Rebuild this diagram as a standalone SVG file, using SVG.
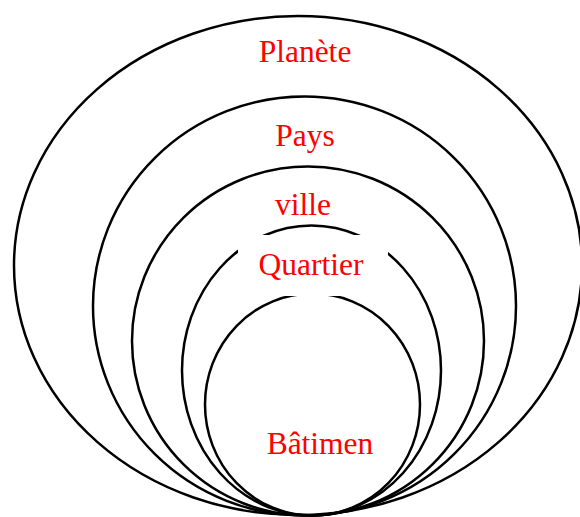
<svg xmlns="http://www.w3.org/2000/svg" width="580" height="517" viewBox="0 0 580 517">
<style>
.ring{fill:none;stroke:#000;stroke-width:2.5}
.lbl{font-family:"Liberation Serif","Times New Roman",serif;font-size:31.5px;fill:#ff0000;text-anchor:middle}
</style>
<rect width="580" height="517" fill="#fff"/>
<g id="planete">
<ellipse class="ring" cx="298" cy="265.5" rx="284" ry="249.5"/>
<text class="lbl" x="305" y="62">Planète</text>
</g>
<g id="pays">
<ellipse class="ring" cx="304.5" cy="306" rx="211.5" ry="209.5"/>
<text class="lbl" x="305" y="146">Pays</text>
</g>
<g id="ville">
<ellipse class="ring" cx="308" cy="341" rx="176" ry="174.5"/>
<text class="lbl" x="303" y="215">ville</text>
</g>
<g id="batiment">
<ellipse class="ring" cx="312.5" cy="404.5" rx="107.5" ry="111"/>
<text class="lbl" x="320" y="454">Bâtimen</text>
</g>
<g id="quartier">
<ellipse class="ring" cx="311.5" cy="370.5" rx="129.5" ry="145"/>
<rect x="238" y="235" width="150" height="61" fill="#fff"/>
<text class="lbl" x="311" y="275">Quartier</text>
</g>
</svg>
